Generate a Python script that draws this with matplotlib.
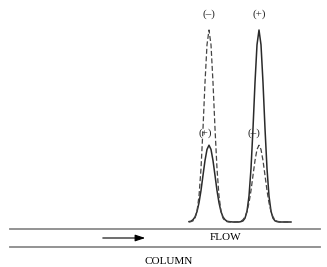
import numpy as np
import matplotlib
matplotlib.use("Agg")
import matplotlib.pyplot as plt

# position along the column (px) and detector signal (tallest peak = 1)
position = list(range(189, 292, 2))
signal_solid = [0.002, 0.004, 0.012, 0.026, 0.054, 0.100, 0.164, 0.243, 0.320, 0.378,
                0.400, 0.378, 0.320, 0.243, 0.164, 0.100, 0.054, 0.026, 0.012, 0.004,
                0.002, 0.001, 0.000, 0.000, 0.000, 0.000, 0.002, 0.006, 0.020, 0.056,
                0.135, 0.278, 0.487, 0.726, 0.923, 1.000, 0.923, 0.726, 0.487, 0.278,
                0.135, 0.056, 0.020, 0.006, 0.002, 0.000, 0.000, 0.000, 0.000, 0.000,
                0.000, 0.000]
signal_dashed = [0.000, 0.002, 0.006, 0.020, 0.056, 0.135, 0.278, 0.487, 0.726, 0.923,
                 1.000, 0.923, 0.726, 0.487, 0.278, 0.135, 0.056, 0.020, 0.006, 0.002,
                 0.000, 0.000, 0.000, 0.000, 0.001, 0.002, 0.004, 0.012, 0.026, 0.054,
                 0.100, 0.164, 0.243, 0.320, 0.378, 0.400, 0.378, 0.320, 0.243, 0.164,
                 0.100, 0.054, 0.026, 0.012, 0.004, 0.002, 0.000, 0.000, 0.000, 0.000,
                 0.000, 0.000]

# peak labels: (x, y, text)
peak_labels = [(209, 1.08, "(\u2013)"), (259, 1.08, "(+)"),
               (205, 0.46, "(+)"), (254, 0.46, "(\u2013)")]

W, H = 327, 267
fig = plt.figure(figsize=(W / 100, H / 100), dpi=100)
fig.patch.set_facecolor("white")

# peaks axes: baseline at y=222 px, top of tall peak at y=30 px
ax = fig.add_axes([0, (H - 222) / H, 1, 192 / H])
ax.set_xlim(0, W)
ax.set_ylim(0, 1)
ax.axis("off")
ax.plot(position, signal_solid, color="#2a2a2a", lw=1.1, clip_on=False)
ax.plot(position, signal_dashed, color="#444444", lw=0.9, ls=(0, (4, 2)), clip_on=False)
for x, y, t in peak_labels:
    ax.text(x, y, t, ha="center", va="center", fontsize=8,
            family="Liberation Serif", color="#222222", clip_on=False)

# column and flow annotation in pixel coordinates
ov = fig.add_axes([0, 0, 1, 1])
ov.set_xlim(0, W)
ov.set_ylim(H, 0)
ov.axis("off")
ov.patch.set_alpha(0)
ov.plot([10, 320], [229, 229], color="#8a8a8a", lw=1.3)
ov.plot([10, 320], [247, 247], color="#8a8a8a", lw=1.3)
ov.annotate("", xy=(148, 238), xytext=(100, 238),
            arrowprops=dict(arrowstyle="-|>,head_length=0.6,head_width=0.2",
                            color="black", lw=0.8, mutation_scale=10))
ov.text(226, 238, "FLOW", ha="center", va="center", fontsize=8,
        family="Liberation Serif")
ov.text(169, 261, "COLUMN", ha="center", va="center", fontsize=8,
        family="Liberation Serif")

fig.savefig("out.png", dpi=100)
